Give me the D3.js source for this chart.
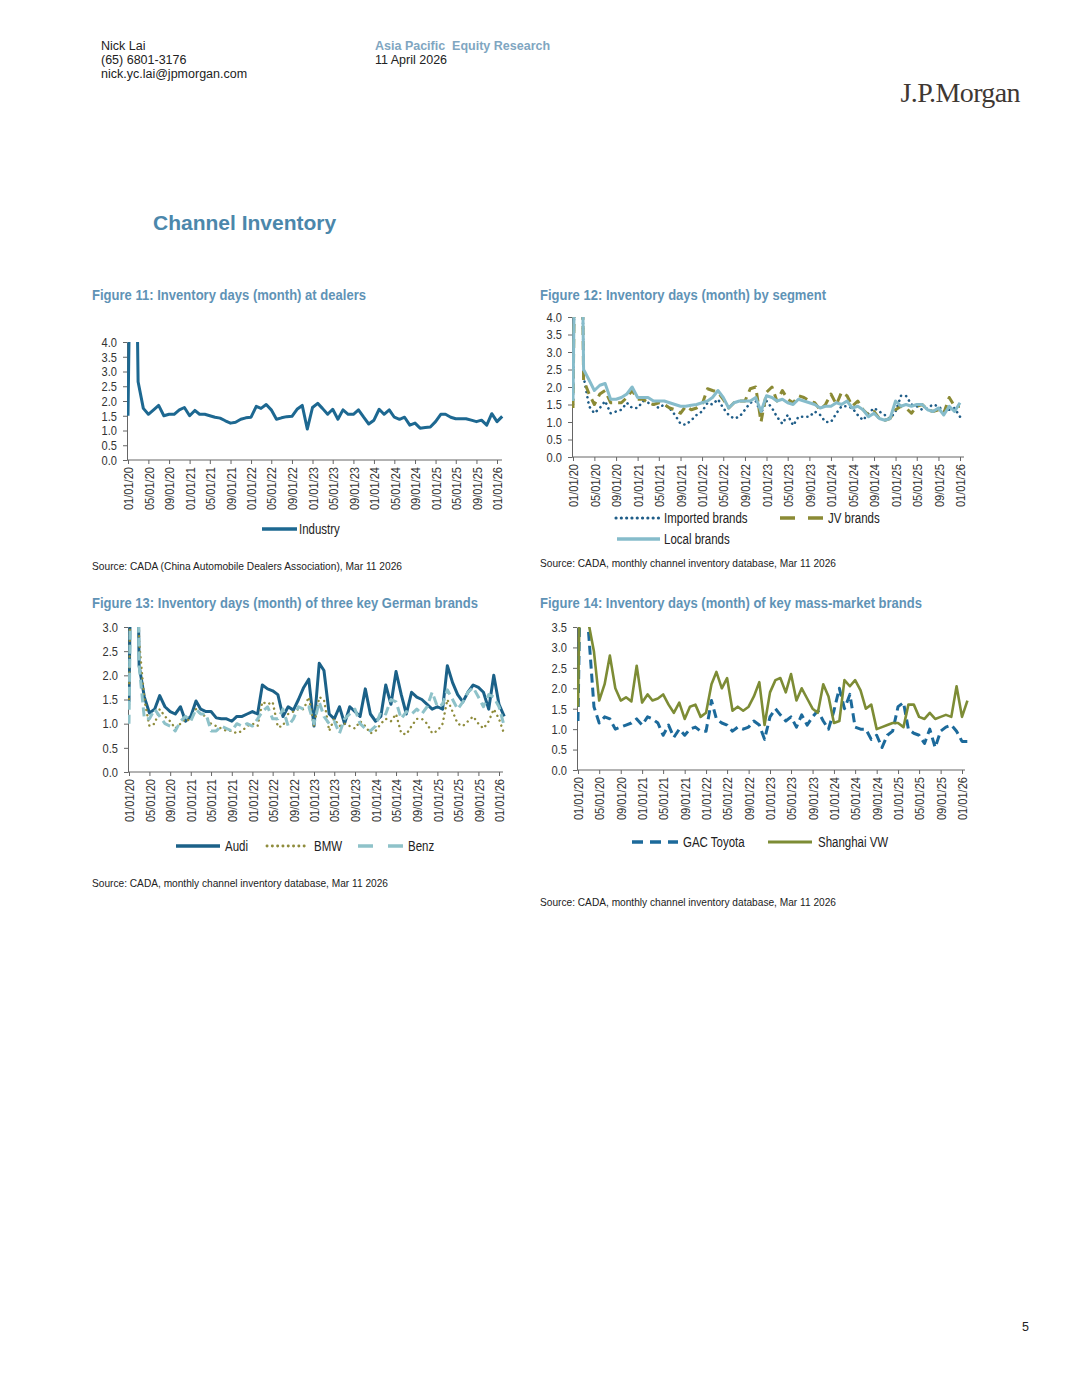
<!DOCTYPE html>
<html>
<head>
<meta charset="utf-8">
<script src="https://cdn.jsdelivr.net/npm/d3@7"></script>
<style>
  html, body { margin: 0; padding: 0; background: #fff; }
  svg { display: block; }
  .hdr { font-family: "Liberation Sans", Arial, sans-serif; font-size: 12.5px; fill: #222; }
  .narrow { font-family: "Liberation Sans", Arial, sans-serif; }
  .axis text { font-family: "Liberation Sans", Arial, sans-serif; font-size: 13.5px; fill: #333; }
  .axis path, .axis line { stroke: #666; }
</style>
</head>
<body>
<svg id="page" width="1080" height="1397"></svg>
<script>
// monthly data, Jan 2020 onwards
const industry = [
  1.5, 15, 2.65, 1.75, 1.55, 1.7, 1.85, 1.5, 1.55, 1.55, 1.7, 1.78,
  1.5, 1.68, 1.55, 1.55, 1.5, 1.45, 1.42, 1.33, 1.25, 1.28, 1.38, 1.43,
  1.45, 1.82, 1.75, 1.88, 1.7, 1.38, 1.43, 1.47, 1.48, 1.72, 1.85, 1.05,
  1.78, 1.92, 1.75, 1.55, 1.72, 1.38, 1.7, 1.55, 1.55, 1.7, 1.45, 1.22,
  1.35, 1.72, 1.55, 1.7, 1.45, 1.38, 1.45, 1.18, 1.25, 1.08, 1.1, 1.12,
  1.3, 1.55, 1.55, 1.45, 1.4, 1.4, 1.4, 1.35, 1.3, 1.35, 1.18, 1.57,
  1.3, 1.48]

const imported = [
  1.5, 15, 2.3, 1.45, 1.25, 1.4, 1.6, 1.25, 1.3, 1.35, 1.55, 1.4,
  1.4, 1.6, 1.55, 1.5, 1.4, 1.5, 1.4, 1.2, 0.95, 0.92, 1.05, 1.2,
  1.3, 1.55, 1.5, 1.65, 1.4, 1.2, 1.1, 1.15, 1.35, 1.55, 1.6, 1.25,
  1.6, 1.4, 1.15, 0.95, 1.2, 0.9, 1.15, 1.15, 1.15, 1.3, 1.2, 1.0,
  1.0, 1.25, 1.45, 1.45, 1.4, 1.2, 1.05, 1.25, 1.4, 1.3, 1.2, 1.1,
  1.3, 1.75, 1.75, 1.5, 1.45, 1.35, 1.4, 1.5, 1.45, 1.3, 1.35, 1.4,
  1.15]
const jvBrands = [
  1.4, 15, 2.2, 1.8, 1.5, 1.8, 1.9, 1.55, 1.55, 1.55, 1.7, 1.9,
  1.65, 1.65, 1.55, 1.5, 1.55, 1.5, 1.4, 1.35, 1.25, 1.45, 1.35, 1.4,
  1.5, 1.95, 1.9, 1.85, 1.65, 1.4, 1.55, 1.6, 1.6, 1.95, 2.0, 1.0,
  1.85, 2.0, 1.6, 1.9, 1.65, 1.55, 1.75, 1.7, 1.6, 1.55, 1.35, 1.5,
  1.8, 1.5, 1.85, 1.75, 1.45, 1.6, 1.35, 1.2, 1.3, 1.1, 1.05, 1.1,
  1.35, 1.45, 1.4, 1.25, 1.45, 1.5, 1.35, 1.3, 1.35, 1.25, 1.7, 1.45,
  1.45]
const localBrands = [
  1.6, 15, 2.5, 2.2, 1.9, 2.05, 2.1, 1.65, 1.65, 1.7, 1.8, 2.0,
  1.7, 1.7, 1.7, 1.6, 1.6, 1.6, 1.55, 1.5, 1.45, 1.45, 1.48, 1.5,
  1.55, 1.6, 1.7, 1.9, 1.7, 1.4, 1.55, 1.6, 1.6, 1.6, 1.7, 1.3,
  1.75, 1.7, 1.6, 1.65, 1.55, 1.5, 1.65, 1.6, 1.55, 1.5, 1.4, 1.45,
  1.45, 1.55, 1.5, 1.6, 1.4, 1.45, 1.35, 1.15, 1.25, 1.1, 1.05, 1.1,
  1.6, 1.45, 1.5, 1.45, 1.5, 1.5, 1.35, 1.3, 1.4, 1.2, 1.45, 1.3,
  1.55]

const audi = [
  1.45, 10, 2.2, 1.55, 1.22, 1.3, 1.58, 1.35, 1.25, 1.2, 1.35, 1.05,
  1.15, 1.47, 1.3, 1.25, 1.25, 1.12, 1.1, 1.1, 1.05, 1.15, 1.15, 1.2,
  1.25, 1.2, 1.8, 1.72, 1.68, 1.6, 1.15, 1.35, 1.28, 1.5, 1.75, 1.92,
  0.95, 2.25, 2.1, 1.2, 1.1, 1.35, 1.0, 1.35, 1.25, 1.15, 1.72, 1.2,
  1.05, 1.15, 1.8, 1.4, 2.08, 1.6, 1.2, 1.65, 1.55, 1.5, 1.4, 1.3,
  1.35, 1.3, 2.2, 1.85, 1.6, 1.45, 1.65, 1.8, 1.75, 1.65, 1.3, 2.0,
  1.4, 1.15]
const bmw = [
  1.4, 10, 2.7, 1.5, 0.95, 1.0, 1.3, 1.15, 1.05, 0.9, 1.0, 1.1,
  1.05, 1.3, 1.2, 1.15, 1.0, 0.95, 0.9, 0.85, 0.85, 0.8, 0.85, 0.95,
  1.0, 0.95, 1.45, 1.4, 1.45, 0.93, 0.95, 1.2, 1.25, 1.3, 1.3, 1.55,
  0.95, 1.55, 1.5, 0.85, 1.1, 0.95, 1.0, 0.95, 0.9, 1.05, 0.95, 0.8,
  0.85, 1.0, 1.1, 1.05, 1.2, 0.8, 0.78, 0.95, 1.1, 1.1, 1.0, 0.8,
  0.85, 1.0, 1.5, 1.25, 1.0, 0.95, 1.05, 1.15, 1.0, 0.9, 1.05, 1.3,
  1.1, 0.78]
const benz = [
  1.0, 10, 2.2, 1.1, 1.1, 1.3, 1.15, 1.0, 0.95, 0.85, 1.05, 1.15,
  1.05, 1.3, 1.2, 1.2, 0.85, 0.85, 0.95, 0.9, 0.85, 1.0, 0.95, 1.0,
  0.95, 1.1, 1.25, 1.35, 1.1, 1.1, 1.3, 0.95, 1.1, 1.35, 1.3, 1.35,
  1.0, 1.45, 1.15, 1.0, 1.05, 0.8, 1.1, 1.2, 1.3, 1.0, 0.9, 0.85,
  0.95, 1.25, 1.2, 1.5, 1.45, 1.1, 1.25, 1.2, 1.3, 1.2, 1.35, 1.65,
  1.35, 1.4, 1.7, 1.5, 1.3, 1.45, 1.65, 1.75, 1.55, 1.35, 1.6, 1.55,
  1.35, 0.95]

const gacToyota = [
  1.2, 10, 3.4, 1.55, 1.15, 1.3, 1.25, 1.0, 1.05, 1.1, 1.15, 1.25,
  1.1, 1.3, 1.25, 1.15, 0.85, 1.1, 0.8, 1.0, 0.85, 1.0, 1.05, 0.95,
  0.95, 1.7, 1.25, 1.15, 1.1, 0.95, 1.05, 1.0, 1.05, 1.2, 1.1, 0.75,
  1.3, 1.5, 1.35, 1.2, 1.3, 1.05, 1.35, 1.1, 1.3, 1.45, 1.2, 1.0,
  1.45, 2.0, 1.5, 1.85, 1.05, 1.0, 1.0, 0.75, 0.85, 0.55, 0.85, 0.95,
  1.55, 1.65, 1.0, 0.9, 0.85, 0.65, 1.0, 0.55, 0.95, 1.05, 1.1, 0.95,
  0.7, 0.7]
const shanghaiVW = [
  1.55, 10, 3.6, 2.9, 1.7, 2.1, 2.8, 2.0, 1.7, 1.78, 1.68, 2.55,
  1.65, 1.85, 1.7, 1.75, 1.85, 1.6, 1.4, 1.65, 1.25, 1.55, 1.6, 1.3,
  1.4, 2.1, 2.4, 2.0, 2.25, 1.45, 1.55, 1.45, 1.55, 1.8, 2.15, 1.1,
  1.9, 2.2, 2.25, 1.9, 2.35, 1.7, 2.0, 1.75, 1.5, 1.4, 2.1, 1.8,
  1.15, 1.2, 2.2, 2.05, 2.2, 1.95, 1.5, 1.6, 1.0, 1.05, 1.1, 1.15,
  1.15, 1.05, 1.6, 1.6, 1.3, 1.25, 1.4, 1.25, 1.3, 1.35, 1.3, 2.05,
  1.3, 1.7]

const start = new Date(2020, 0, 1)
const lastTick = new Date(2026, 0, 1)
const tickDates = d3.timeMonth.every(4).range(start, d3.timeMonth.offset(lastTick, 1))

// no narrow font installed: squeeze Liberation Sans to Arial Narrow width
const NARROW = 0.82
function squeeze (sel, factor) {
  sel.each(function () {
    const w = this.getComputedTextLength()
    d3.select(this).attr('textLength', w * factor).attr('lengthAdjust', 'spacingAndGlyphs')
  })
}
function fitTo (sel, width) {
  sel.attr('textLength', width).attr('lengthAdjust', 'spacingAndGlyphs')
}

const svg = d3.select('#page')
svg.append('rect').attr('width', 1080).attr('height', 1397).attr('fill', '#fff')

// header
const hdr = svg.append('g')
hdr.append('text').attr('class', 'hdr').attr('x', 101).attr('y', 50).text('Nick Lai')
hdr.append('text').attr('class', 'hdr').attr('x', 101).attr('y', 64).text('(65) 6801-3176')
hdr.append('text').attr('class', 'hdr').attr('x', 101).attr('y', 78).text('nick.yc.lai@jpmorgan.com')
hdr.append('text').attr('class', 'hdr').attr('x', 375).attr('y', 50)
  .attr('font-weight', 'bold').style('fill', '#7fa6c1').attr('xml:space', 'preserve')
  .text('Asia Pacific  Equity Research')
hdr.append('text').attr('class', 'hdr').attr('x', 375).attr('y', 64).text('11 April 2026')
hdr.append('text').attr('x', 1020).attr('y', 102).attr('text-anchor', 'end')
  .attr('font-family', '"Liberation Serif", "DejaVu Serif", serif').attr('font-size', 28)
  .attr('letter-spacing', -0.6).attr('fill', '#3f3833').text('J.P.Morgan')
svg.append('text').attr('x', 153).attr('y', 230)
  .attr('font-family', '"Liberation Sans", Arial, sans-serif').attr('font-size', 21)
  .attr('font-weight', 'bold').attr('fill', '#4b87ab').text('Channel Inventory')
svg.append('text').attr('class', 'hdr').attr('x', 1029).attr('y', 1331)
  .attr('text-anchor', 'end').text('5')

function chart (cfg) {
  const g = svg.append('g')
  g.append('text').attr('class', 'narrow').attr('x', cfg.titleX).attr('y', cfg.titleY)
    .attr('font-size', 15).attr('font-weight', 'bold').attr('fill', '#5f93b6').text(cfg.title)
    .call(fitTo, cfg.titleW)
  g.append('text').attr('class', 'narrow').attr('x', cfg.titleX).attr('y', cfg.sourceY)
    .attr('font-size', 11.5).attr('fill', '#222').text(cfg.source)
    .call(fitTo, cfg.sourceW)

  const x = d3.scaleTime().domain([start, lastTick]).range([cfg.x0, cfg.x1])
  const y = d3.scaleLinear().domain([0, cfg.yMax]).range([cfg.yBot, cfg.yTop])

  const yAxis = g.append('g').attr('class', 'axis').attr('transform', `translate(${cfg.left},0)`)
    .call(d3.axisLeft(y).tickValues(d3.range(0, cfg.yMax + 0.01, 0.5))
      .tickFormat(d3.format('.1f')).tickSize(4).tickSizeOuter(0))
  yAxis.selectAll('text').attr('x', -10).call(squeeze, NARROW)

  const xAxis = g.append('g').attr('class', 'axis').attr('transform', `translate(0,${cfg.yBot})`)
    .call(d3.axisBottom(x).tickValues(tickDates).tickFormat(d3.timeFormat('%m/%d/%y'))
      .tickSize(4).tickSizeOuter(0))
  xAxis.select('.domain').attr('d', `M${cfg.left},0H${cfg.end}`)
  xAxis.selectAll('text')
    .attr('transform', 'rotate(-90)')
    .attr('text-anchor', 'end')
    .attr('x', -7).attr('y', 0).attr('dy', '0.35em')
    .attr('font-size', 14.5)
    .call(squeeze, NARROW)

  const clipId = 'clip-' + cfg.id
  g.append('clipPath').attr('id', clipId).append('rect')
    .attr('x', cfg.left).attr('y', cfg.yTop).attr('width', cfg.end - cfg.left + 4)
    .attr('height', cfg.yBot - cfg.yTop)

  const line = d3.line()
    .x((d, i) => x(d3.timeMonth.offset(start, i)))
    .y(d => y(d))

  const lines = g.append('g').attr('clip-path', `url(#${clipId})`)
  cfg.series.forEach(s => {
    lines.append('path').datum(s.values)
      .attr('d', line)
      .attr('fill', 'none')
      .attr('stroke', s.color)
      .attr('stroke-width', s.width)
      .attr('stroke-dasharray', s.dash || null)
      .attr('stroke-linecap', s.cap || 'butt')
      .attr('stroke-linejoin', 'round')
  })

  cfg.series.forEach(s => {
    const lg = s.legend
    g.append('line')
      .attr('x1', lg.x1).attr('x2', lg.x2).attr('y1', lg.y).attr('y2', lg.y)
      .attr('stroke', s.color).attr('stroke-width', s.width + 0.5)
      .attr('stroke-dasharray', lg.dash || s.dash || null)
      .attr('stroke-linecap', s.cap || 'butt')
    g.append('text').attr('class', 'narrow').attr('x', lg.tx).attr('y', lg.y + 5)
      .attr('font-size', 14).attr('fill', '#222').text(s.name)
      .call(squeeze, NARROW)
  })
}

chart({
  id: 'f11', title: 'Figure 11: Inventory days (month) at dealers', titleX: 92, titleY: 300, titleW: 274,
  source: 'Source: CADA (China Automobile Dealers Association), Mar 11 2026', sourceY: 570, sourceW: 310,
  left: 127, x0: 128, x1: 497, end: 502, yTop: 342, yBot: 460, yMax: 4,
  series: [
    { name: 'Industry', values: industry, color: '#1d6891', width: 3,
      legend: { x1: 262, x2: 297, y: 529, tx: 299 } }
  ]
})

chart({
  id: 'f12', title: 'Figure 12: Inventory days (month) by segment', titleX: 540, titleY: 300, titleW: 286,
  source: 'Source: CADA, monthly channel inventory database, Mar 11 2026', sourceY: 567, sourceW: 296,
  left: 572, x0: 573, x1: 960, end: 964, yTop: 317, yBot: 457, yMax: 4,
  series: [
    { name: 'Imported brands', values: imported, color: '#1f5d88', width: 2.6,
      dash: '0.1 5.2', cap: 'round', legend: { x1: 616, x2: 659, y: 518, tx: 664 } },
    { name: 'JV brands', values: jvBrands, color: '#8b8a34', width: 3,
      dash: '9 6', legend: { x1: 780, x2: 823, y: 518, tx: 828, dash: '15 13' } },
    { name: 'Local brands', values: localBrands, color: '#86bccb', width: 3,
      legend: { x1: 617, x2: 660, y: 539, tx: 664 } }
  ]
})

chart({
  id: 'f13', title: 'Figure 13: Inventory days (month) of three key German brands', titleX: 92, titleY: 608, titleW: 386,
  source: 'Source: CADA, monthly channel inventory database, Mar 11 2026', sourceY: 887, sourceW: 296,
  left: 128, x0: 129, x1: 499, end: 503, yTop: 627, yBot: 772, yMax: 3,
  series: [
    { name: 'Audi', values: audi, color: '#1b6188', width: 3,
      legend: { x1: 176, x2: 220, y: 846, tx: 225 } },
    { name: 'BMW', values: bmw, color: '#8f8c3c', width: 2.4,
      dash: '0.1 5.2', cap: 'round', legend: { x1: 267, x2: 308, y: 846, tx: 314 } },
    { name: 'Benz', values: benz, color: '#8ec2c9', width: 3,
      dash: '9 5', legend: { x1: 358, x2: 403, y: 846, tx: 408, dash: '15 15' } }
  ]
})

chart({
  id: 'f14', title: 'Figure 14: Inventory days (month) of key mass-market brands', titleX: 540, titleY: 608, titleW: 382,
  source: 'Source: CADA, monthly channel inventory database, Mar 11 2026', sourceY: 906, sourceW: 296,
  left: 577, x0: 578, x1: 962, end: 965, yTop: 627, yBot: 770, yMax: 3.5,
  series: [
    { name: 'GAC Toyota', values: gacToyota, color: '#1c6a9b', width: 3,
      dash: '9 5', legend: { x1: 632, x2: 678, y: 842, tx: 683, dash: '11 7' } },
    { name: 'Shanghai VW', values: shanghaiVW, color: '#7d8c35', width: 2.6,
      legend: { x1: 768, x2: 812, y: 842, tx: 818 } }
  ]
})
</script>
</body>
</html>
